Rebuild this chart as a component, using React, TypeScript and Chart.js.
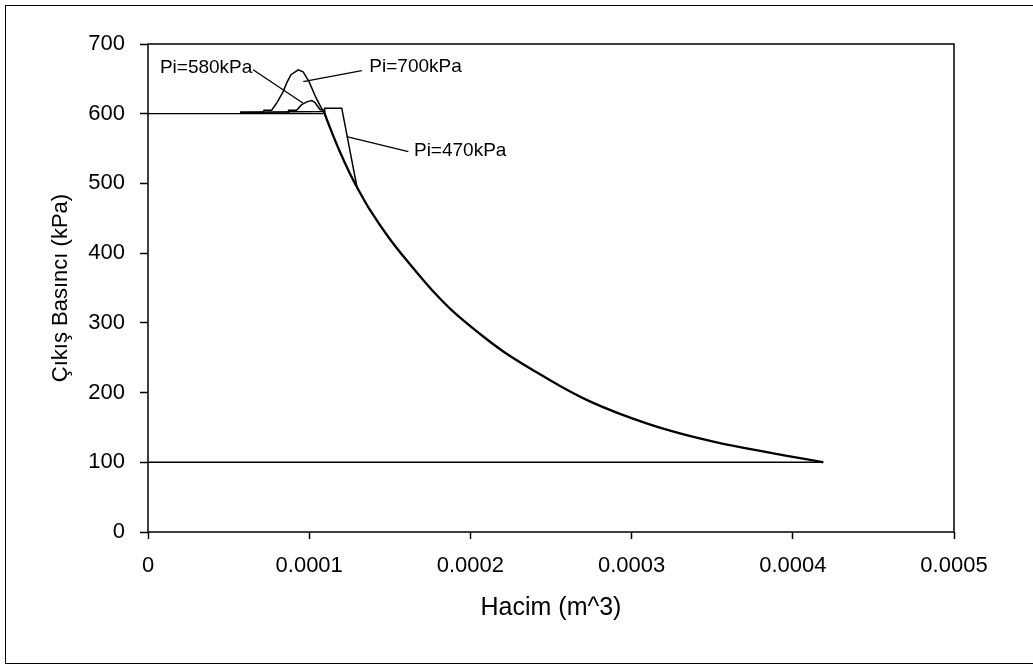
import React, { useEffect, useRef } from 'react';
import { Chart, registerables } from 'chart.js';

Chart.register(...registerables);

// ---- axis ticks ----
const xTickLabels = ['0', '0.0001', '0.0002', '0.0003', '0.0004', '0.0005'];
const yTickLabels = ['0', '100', '200', '300', '400', '500', '600', '700'];

// ---- shared expansion curve (m^3, kPa) ----
const mainVolume = [
  0.0001088, 0.0001129, 0.0001191, 0.0001253, 0.0001305, 0.0001377, 0.0001501,
  0.0001625, 0.0001698, 0.000177, 0.0001894, 0.000206, 0.0002204, 0.0002411,
  0.0002556, 0.0002721, 0.0002928, 0.0003228, 0.0003528, 0.0003838, 0.0004045,
  0.000415, 0.0004189,
];
const mainPressure = [
  605, 580, 545, 514, 491, 462, 420, 384, 364, 345, 316, 284, 259, 229, 209.5,
  189.5, 169.5, 146, 128.5, 114.5, 106, 101.5, 100,
];

// ---- Pi=700kPa opening part ----
const pi700Volume = [
  0.0000571, 0.0000713, 0.000072, 0.0000767, 0.00008, 0.0000837, 0.0000862,
  0.0000887, 0.0000932, 0.0000962, 0.0000999, 0.0001042, 0.0001078, 0.0001088,
];
const pi700Pressure = [602, 602, 605, 605, 616, 631, 645, 656, 663, 660, 646, 623, 607, 605];

// ---- Pi=580kPa opening part ----
const pi580Volume = [
  0.0000571, 0.000087, 0.0000872, 0.0000922, 0.0000953, 0.0000985, 0.0001016,
  0.0001036, 0.0001067, 0.0001088,
];
const pi580Pressure = [601, 601, 605, 605, 613, 617, 619, 616, 606, 605];

// ---- Pi=470kPa opening part ----
const pi470Volume = [0.0000571, 0.0001094, 0.0001096, 0.0001191, 0.0001202, 0.0001296, 0.0001305];
const pi470Pressure = [602, 603, 608, 608, 608, 495, 491];

// ---- horizontal reference lines ----
const line600Volume = [0, 0.0001088];
const line600Pressure = [600, 600];
const line100Volume = [0, 0.0004189];
const line100Pressure = [100, 100];

// ---- annotation labels and leader lines ----
const labelTexts = ['Pi=580kPa', 'Pi=700kPa', 'Pi=470kPa'];
const labelVolume = [0.0000074, 0.0001373, 0.000165];
const labelPressure = [665.7, 666.7, 546.6];
const leaderStartVolume = [0.0000652, 0.0001326, 0.0001615];
const leaderStartPressure = [663, 661.8, 545.6];
const leaderEndVolume = [0.0000963, 0.0000963, 0.0001233];
const leaderEndPressure = [615, 646, 567];

const FONT = '"Liberation Sans", Arial, sans-serif';

function pts(xs: number[], ys: number[]) {
  return xs.map((x, i) => ({ x, y: ys[i] }));
}

function lineSet(data: { x: number; y: number }[], width: number, extra: any = {}) {
  return {
    data,
    showLine: true,
    borderColor: '#000',
    backgroundColor: '#000',
    borderWidth: width,
    pointRadius: 0,
    pointHoverRadius: 0,
    tension: 0,
    ...extra,
  };
}

const framePlugin = {
  id: 'framePlugin',
  afterDraw(chart: any) {
    const { ctx, chartArea } = chart;
    ctx.save();
    // outer chart border
    ctx.strokeStyle = '#000';
    ctx.lineWidth = 1;
    ctx.strokeRect(5.5, 5.5, 1100, 658);
    // plot area frame
    ctx.lineWidth = 1.5;
    ctx.strokeRect(
      chartArea.left,
      chartArea.top,
      chartArea.right - chartArea.left,
      chartArea.bottom - chartArea.top
    );
    // annotation texts
    const xs = chart.scales.x;
    const ys = chart.scales.y;
    ctx.fillStyle = '#000';
    ctx.font = `19px ${FONT}`;
    ctx.textAlign = 'left';
    ctx.textBaseline = 'middle';
    labelTexts.forEach((t, i) => {
      ctx.fillText(t, xs.getPixelForValue(labelVolume[i]), ys.getPixelForValue(labelPressure[i]));
    });
    ctx.restore();
  },
};

export default function App() {
  const ref = useRef<HTMLCanvasElement | null>(null);

  useEffect(() => {
    if (!ref.current) return;
    const leaders = labelTexts.map((_, i) =>
      lineSet(
        [
          { x: leaderStartVolume[i], y: leaderStartPressure[i] },
          { x: leaderEndVolume[i], y: leaderEndPressure[i] },
        ],
        1.3
      )
    );
    const chart = new Chart(ref.current, {
      type: 'scatter',
      data: {
        datasets: [
          lineSet(pts(line600Volume, line600Pressure), 1.3),
          lineSet(pts(line100Volume, line100Pressure), 1.5),
          lineSet(pts(pi700Volume, pi700Pressure), 1.5),
          lineSet(pts(pi580Volume, pi580Pressure), 1.5),
          lineSet(pts(pi470Volume, pi470Pressure), 1.5),
          lineSet(pts(mainVolume, mainPressure), 2.3, { cubicInterpolationMode: 'monotone' }),
          ...leaders,
        ] as any,
      },
      options: {
        responsive: false,
        animation: false,
        events: [],
        layout: { padding: { left: 0, top: 44, right: 79, bottom: 0 } },
        plugins: {
          legend: { display: false },
          tooltip: { enabled: false },
        },
        scales: {
          x: {
            type: 'linear',
            min: 0,
            max: 0.0005,
            afterFit: (s: any) => {
              s.height = 132;
            },
            ticks: {
              stepSize: 0.0001,
              padding: 14,
              color: '#000',
              font: { family: FONT, size: 22 },
              maxRotation: 0,
              autoSkip: false,
              callback: (v: any) => xTickLabels[Math.round(Number(v) / 0.0001)] ?? '',
            },
            grid: {
              display: true,
              drawOnChartArea: false,
              drawTicks: true,
              tickLength: 7,
              tickColor: '#000',
              tickWidth: 1.5,
            },
            border: { display: false },
            title: {
              display: true,
              text: 'Hacim (m^3)',
              color: '#000',
              font: { family: FONT, size: 25 },
              padding: { top: 0, bottom: 40.5 },
            },
          },
          y: {
            type: 'linear',
            min: 0,
            max: 700,
            afterFit: (s: any) => {
              s.width = 148;
            },
            ticks: {
              stepSize: 100,
              padding: 15,
              color: '#000',
              font: { family: FONT, size: 22 },
              autoSkip: false,
              callback: (v: any) => yTickLabels[Math.round(Number(v) / 100)] ?? '',
            },
            grid: {
              display: true,
              drawOnChartArea: false,
              drawTicks: true,
              tickLength: 8,
              tickColor: '#000',
              tickWidth: 1.5,
            },
            border: { display: false },
            title: {
              display: true,
              text: 'Çıkış Basıncı (kPa)',
              color: '#000',
              font: { family: FONT, size: 22 },
              padding: { top: 47.8, bottom: 0 },
            },
          },
        },
      },
      plugins: [framePlugin],
    });
    return () => chart.destroy();
  }, []);

  return (
    <div style={{ position: 'absolute', left: 0, top: 0, width: 1033, height: 664, background: '#fff' }}>
      <canvas ref={ref} width={1033} height={664} style={{ display: 'block', width: 1033, height: 664 }} />
    </div>
  );
}
